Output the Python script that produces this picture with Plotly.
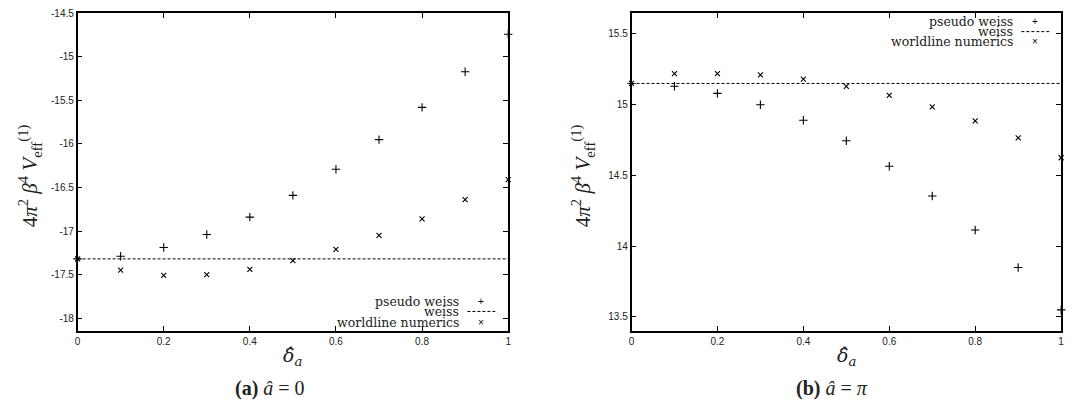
import plotly.graph_objects as go

# ---------------- data ----------------
delta = [0.0, 0.1, 0.2, 0.3, 0.4, 0.5, 0.6, 0.7, 0.8, 0.9, 1.0]

# (a) a = 0
pseudo_a = [-17.32, -17.29, -17.19, -17.04, -16.84, -16.59, -16.29, -15.95, -15.58, -15.17, -14.74]
world_a = [-17.32, -17.45, -17.51, -17.50, -17.44, -17.34, -17.21, -17.05, -16.86, -16.64, -16.41]
weiss_a = -17.32

# (b) a = pi
pseudo_b = [15.15, 15.13, 15.08, 15.00, 14.89, 14.745, 14.565, 14.355, 14.115, 13.85, 13.55]
world_b = [15.15, 15.22, 15.22, 15.21, 15.18, 15.13, 15.065, 14.985, 14.885, 14.765, 14.625]
weiss_b = 15.15

xticks = [0, 0.2, 0.4, 0.6, 0.8, 1]
xtick_labels = ["0", "0.2", "0.4", "0.6", "0.8", "1"]
yticks_a = [-18, -17.5, -17, -16.5, -16, -15.5, -15, -14.5]
yticks_b = [13.5, 14, 14.5, 15, 15.5]

legend_names = ["pseudo weiss", "weiss", "worldline numerics"]

# ---------------- figure ----------------
fig = go.Figure()

plus = dict(symbol="cross-thin", size=6, line=dict(color="black", width=1.1), color="black")
cross = dict(symbol="x-thin", size=5, line=dict(color="black", width=1.1), color="black")

for xa, ya, ps, wl, ws in [("x", "y", pseudo_a, world_a, weiss_a),
                            ("x2", "y2", pseudo_b, world_b, weiss_b)]:
    fig.add_trace(go.Scatter(x=[delta[0], delta[-1]], y=[ws, ws], mode="lines",
                             line=dict(color="black", width=1, dash="3px,2px"),
                             xaxis=xa, yaxis=ya, showlegend=False, name=legend_names[1]))
    fig.add_trace(go.Scatter(x=delta, y=ps, mode="markers", marker=plus, cliponaxis=False,
                             xaxis=xa, yaxis=ya, showlegend=False, name=legend_names[0]))
    fig.add_trace(go.Scatter(x=delta, y=wl, mode="markers", marker=cross, cliponaxis=False,
                             xaxis=xa, yaxis=ya, showlegend=False, name=legend_names[2]))

W, H = 1086, 408
ydom = [1 - 330 / H, 1 - 7.5 / H]

axis_common = dict(showline=True, linecolor="black", linewidth=1.5, mirror="allticks",
                   ticks="inside", ticklen=5, tickwidth=1, tickcolor="black",
                   showgrid=False, zeroline=False,
                   tickfont=dict(family="Liberation Sans, Arial, sans-serif", size=10, color="#222"))

fig.update_layout(
    width=W, height=H,
    margin=dict(l=0, r=0, t=0, b=0),
    paper_bgcolor="white", plot_bgcolor="white",
    showlegend=False,
    xaxis=dict(domain=[75 / W, 508 / W], range=[0, 1], tickvals=xticks, ticktext=xtick_labels,
               anchor="y", **axis_common),
    yaxis=dict(domain=ydom, range=[-18.15, -14.5], tickvals=yticks_a,
               ticktext=[("%g" % v) for v in yticks_a], anchor="x", **axis_common),
    xaxis2=dict(domain=[632 / W, 1064 / W], range=[0, 1], tickvals=xticks, ticktext=xtick_labels,
                anchor="y2", **axis_common),
    yaxis2=dict(domain=ydom, range=[13.40, 15.645], tickvals=yticks_b,
                ticktext=[("%g" % v) for v in yticks_b], anchor="x2", **axis_common),
)

serif = "Liberation Serif, Times New Roman, serif"
dserif = "DejaVu Serif, serif"
ann = []
ytitle = "4<i>π</i><sup>2</sup> <i>β</i><sup>4</sup> <i>V</i><sub>eff</sub><sup>(1)</sup>"
for xpix in [27, 583]:
    ann.append(dict(x=xpix / W, y=1 - 172 / H, xref="paper", yref="paper", text=ytitle,
                    textangle=-90, showarrow=False, font=dict(family=serif, size=21, color="#222"),
                    xanchor="center", yanchor="middle"))
xtitle = "<i>δ̂</i><sub><i>a</i></sub>"
for xc in [291, 848]:
    ann.append(dict(x=xc / W, y=1 - 356 / H, xref="paper", yref="paper", text=xtitle,
                    showarrow=False, font=dict(family=dserif, size=19, color="#222"),
                    xanchor="center", yanchor="middle"))
ann.append(dict(x=268 / W, y=1 - 388 / H, xref="paper", yref="paper",
                text="<b>(a)</b> <i>â</i> = 0", showarrow=False,
                font=dict(family=serif, size=20, color="#222"), xanchor="center", yanchor="middle"))
ann.append(dict(x=834 / W, y=1 - 388 / H, xref="paper", yref="paper",
                text="<b>(b)</b> <i>â</i> = <i>π</i>", showarrow=False,
                font=dict(family=serif, size=20, color="#222"), xanchor="center", yanchor="middle"))

# legends (gnuplot style: text right-aligned, sample to the right)
shapes = []
for (tx, sx, ys) in [(461, 481, [299.5, 310, 321]), (1018, 1038, [15.5, 26, 36.5])]:
    for i, name in enumerate(legend_names):
        ann.append(dict(x=tx / W, y=1 - ys[i] / H, xref="paper", yref="paper", text=name,
                        showarrow=False, font=dict(family=dserif, size=12.5, color="#222"),
                        xanchor="right", yanchor="middle"))
    ann.append(dict(x=sx / W, y=1 - ys[0] / H, xref="paper", yref="paper", text="+",
                    showarrow=False, font=dict(family="Liberation Sans, Arial", size=10, color="black"),
                    xanchor="center", yanchor="middle"))
    ann.append(dict(x=sx / W, y=1 - ys[2] / H, xref="paper", yref="paper", text="×",
                    showarrow=False, font=dict(family="Liberation Sans, Arial", size=10, color="black"),
                    xanchor="center", yanchor="middle"))
    shapes.append(dict(type="line", xref="paper", yref="paper", x0=(sx - 14) / W, x1=(sx + 14) / W,
                       y0=1 - ys[1] / H, y1=1 - ys[1] / H, line=dict(color="black", width=1, dash="3px,2px")))

fig.update_layout(annotations=ann, shapes=shapes)
fig.write_html("out.html")
